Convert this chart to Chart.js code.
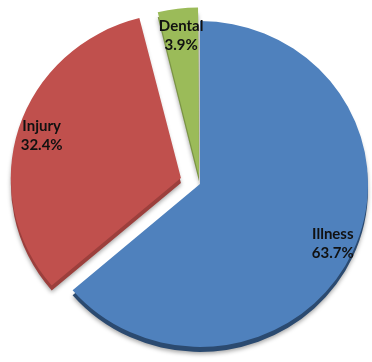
<!DOCTYPE html>
<html>
<head>
<meta charset="utf-8">
<script src="https://cdn.jsdelivr.net/npm/chart.js@4.4.1/dist/chart.umd.min.js"></script>
<style>
  html, body { margin: 0; padding: 0; background: #fff; }
  #wrap { width: 372px; height: 362px; }
</style>
</head>
<body>
<div id="wrap"><canvas id="pieChart"></canvas></div>
<script>
// Claims by type (share of total, %)
const categories = ["Illness", "Injury", "Dental"];
const shares = [63.7, 32.4, 3.9];
const sliceColors = ["#4f81bd", "#c0504d", "#9bbb59"];
const sideColors = ["#2b4a70", "#9c3f3c", "#7a9444"];
const explode = [0, 80, 32];

// slight vertical squash so the pie looks tilted
const TILT = 0.97;
function tilt(chart, ctx) {
    const a = chart.chartArea;
    const cy = (a.top + a.bottom) / 2;
    ctx.translate(0, cy);
    ctx.scale(1, TILT);
    ctx.translate(0, -cy);
}

// darker copy of each slice pushed down a few pixels, gives the pie some thickness
const pieSide = {
    id: 'pieSide',
    beforeDatasetsDraw(chart) {
        const ctx = chart.ctx;
        const arcs = chart.getDatasetMeta(0).data;
        ctx.save();
        ctx.translate(0, 5);
        tilt(chart, ctx);
        ctx.shadowColor = 'rgba(0,0,0,0.35)';
        ctx.shadowBlur = 4;
        ctx.shadowOffsetY = 2;
        arcs.forEach((arc, i) => {
            const copy = Object.create(arc);
            copy.options = Object.assign({}, arc.options, {
                backgroundColor: sideColors[i],
                borderWidth: 0
            });
            arc.constructor.prototype.draw.call(copy, ctx);
        });
        ctx.restore();
        // the slices themselves get the same squash
        ctx.save();
        tilt(chart, ctx);
    },
    afterDatasetsDraw(chart) {
        chart.ctx.restore();
    }
};

// category name and percentage inside each slice
const sliceLabels = {
    id: 'sliceLabels',
    afterDatasetsDraw(chart, args, opts) {
        const ctx = chart.ctx;
        const arcs = chart.getDatasetMeta(0).data;
        const a = chart.chartArea;
        const cy = (a.top + a.bottom) / 2;
        ctx.save();
        ctx.font = 'bold 15px Lato, "Open Sans", sans-serif';
        ctx.fillStyle = '#111';
        ctx.textAlign = 'center';
        ctx.textBaseline = 'middle';
        arcs.forEach((arc, i) => {
            const mid = (arc.startAngle + arc.endAngle) / 2;
            const r = arc.outerRadius * opts.factor + (arc.options.offset || 0) / 4;
            const x = arc.x + Math.cos(mid) * r;
            const y = cy + (arc.y + Math.sin(mid) * r - cy) * TILT;
            ctx.fillText(categories[i], x, y - 9);
            ctx.fillText(shares[i].toFixed(1) + '%', x, y + 10);
        });
        ctx.restore();
    }
};

const ctx = document.getElementById('pieChart').getContext('2d');
new Chart(ctx, {
    type: 'pie',
    data: {
        labels: categories,
        datasets: [{
            data: shares,
            backgroundColor: sliceColors,
            borderWidth: 0,
            offset: explode,
            hoverOffset: 0,
            radius: 168
        }]
    },
    options: {
        responsive: true,
        maintainAspectRatio: false,
        animation: false,
        layout: { padding: { left: 28, right: 0, top: 6, bottom: 0 } },
        plugins: {
            legend: { display: false },
            tooltip: { enabled: false },
            sliceLabels: { factor: 0.87 }
        }
    },
    plugins: [pieSide, sliceLabels]
});
</script>
</body>
</html>
